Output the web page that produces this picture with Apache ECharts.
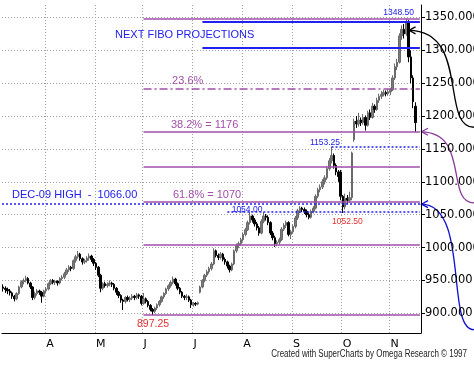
<!DOCTYPE html>
<html><head><meta charset="utf-8">
<script src="https://cdn.jsdelivr.net/npm/echarts@6/dist/echarts.min.js"></script>
<style>html,body{margin:0;padding:0;background:#fff}#c{width:474px;height:366px}</style>
</head><body><div id="c"></div>
<script>
// ---- data ----
const firstDay = '2010-03-05';
const lastDay = '2010-11-18';
const monthLetters = ['J','F','M','A','M','J','J','A','S','O','N','D'];
const yTicks = [900, 950, 1000, 1050, 1100, 1150, 1200, 1250, 1300, 1350];
// [open, close, low, high] per trading day
const ohlc = [
[940,938,933,944],[938,936,931,941],[936,934,929,939],[934,931,927,937],[931,926,922,933],
[926,922,918,928],[922,930,920,932],[930,940,928,942],[940,948,938,950],[948,950,944,953],
[950,953,947,957],[953,946,944,955],[946,940,937,948],[940,924,920,941],[924,930,921,933],
[930,934,927,937],[934,932,928,936],[932,926,916,934],[926,934,924,936],[934,937,931,940],
[937,945,935,947],[945,950,943,952],[950,947,944,952],[947,949,943,951],[949,946,942,950],
[946,953,944,955],[953,955,950,958],[955,960,952,963],[960,966,958,969],[966,970,963,973],
[970,968,964,972],[968,980,966,982],[980,986,977,989],[986,990,983,995],[990,983,980,992],
[983,978,974,985],[978,980,975,983],[980,984,977,987],[984,987,980,991],[987,982,978,989],
[982,976,972,984],[976,970,966,978],[970,958,955,972],[958,938,932,960],[938,945,935,947],
[945,942,939,948],[942,944,939,947],[944,946,941,950],[946,944,940,948],[944,938,935,946],
[938,932,928,940],[932,927,923,934],[927,920,916,929],[920,918,905,922],[918,924,915,926],
[924,921,918,927],[921,923,917,926],[923,926,920,929],[926,924,920,928],[924,928,921,931],
[928,926,922,930],[926,915,912,928],[915,922,913,931],[922,918,915,924],[918,912,909,920],
[912,906,903,914],[906,903,897.25,908],[903,908,900,910],[908,913,905,915],[913,918,910,920],
[918,925,916,927],[925,930,922,932],[930,937,928,939],[937,942,934,944],[942,947,939,949],
[947,952,944,956],[952,945,942,954],[945,938,935,947],[938,932,929,940],[932,926,923,934],
[926,924,920,928],[924,925,920,929],[925,920,917,927],[920,913,908,922],[913,915,910,917],
[915,914,911,917],[914,916,912,918],[932,940,930,942],[940,950,938,952],[950,958,947,960],
[958,963,955,966],[963,968,960,971],[968,975,965,978],[975,995,973,999],[995,988,985,997],
[988,985,981,991],[985,990,982,993],[990,982,979,992],[982,978,974,985],[978,972,968,980],
[972,966,962,974],[966,975,964,977],[975,995,973,997],[995,1003,992,1006],[1003,1006,999,1009],
[1006,1012,1003,1015],[1012,1020,1009,1023],[1020,1027,1017,1030],[1027,1038,1025,1041],[1038,1048,1035,1054],
[1048,1042,1038,1050],[1042,1036,1032,1045],[1036,1030,1026,1039],[1030,1022,1018,1033],[1022,1040,1020,1043],
[1040,1048,1037,1054],[1048,1046,1041,1051],[1046,1038,1034,1049],[1038,1022,1019,1040],[1022,1015,1011,1025],
[1015,1006,1001,1018],[1006,1008,1002,1011],[1008,1012,1004,1015],[1012,1028,1010,1031],[1028,1034,1025,1037],
[1034,1038,1030,1041],[1038,1020,1017,1040],[1020,1024,1013,1027],[1024,1032,1021,1035],[1032,1045,1029,1048],
[1045,1056,1042,1059],[1056,1060,1052,1063],[1060,1058,1054,1062],[1058,1055,1051,1061],[1055,1050,1046,1058],
[1050,1046,1043,1053],[1046,1055,1044,1058],[1055,1060,1052,1063],[1060,1078,1058,1081],[1078,1088,1075,1091],
[1088,1092,1084,1096],[1092,1100,1089,1104],[1100,1106,1096,1110],[1106,1120,1103,1123],[1120,1132,1117,1136],
[1132,1140,1128,1153.25],[1140,1125,1120,1143],[1125,1115,1110,1128],[1115,1108,1100,1118],[1115,1078,1072,1118],
[1078,1062,1052.5,1080],[1062,1075,1058,1082],[1075,1072,1066,1080],[1072,1076,1068,1085],[1076,1144,1072,1146],
[1164,1192,1161,1196],[1192,1188,1182,1200],[1188,1194,1184,1205],[1194,1190,1185,1198],[1190,1198,1187,1203],
[1198,1186,1178,1201],[1186,1205,1184,1208],[1205,1198,1194,1210],[1198,1215,1196,1220],[1215,1210,1205,1218],
[1210,1224,1208,1228],[1224,1230,1220,1234],[1230,1233,1226,1238],[1233,1236,1230,1240],[1236,1234,1230,1239],
[1234,1237,1231,1241],[1237,1240,1232,1243],[1240,1258,1238,1262],[1258,1275,1255,1280],[1275,1282,1270,1287],
[1282,1322,1280,1326],[1322,1332,1316,1338],[1332,1325,1318,1340],[1325,1344,1322,1348.5],[1344,1290,1282,1346],
[1290,1258,1250,1300],[1258,1222,1212,1262],[1215,1190,1176,1221]
];
// Fibonacci levels (swing low 897.25 -> high 1348.50)
const fibLevels = [897.25, 1003.75, 1069.6, 1122.9, 1176.1, 1242.0, 1348.5];
const fibDashDot = [false, false, false, false, false, true, false];
const projLevels = [1343, 1304];          // "next fibo projections"
const dec09High = 1066;
const swingHigh = 1153.25, swingMid = 1054, swingLow = 1052.5, juneLow = 897.25, peak = 1348.5;
const noteTexts = {
  proj: 'NEXT FIBO PROJECTIONS', f236: '23.6%', f382: '38.2% = 1176', f618: '61.8% = 1070',
  dec: 'DEC-09 HIGH  -  1066.00', sh: '1153.25', pk: '1348.50', sm: '1054.00', sl: '1052.50', jl: '897.25'
};
const footer = 'Created with SuperCharts by Omega Research \u00A9 1997';

// ---- categories (weekdays) ----
const cats = [], dows = [];
for (let d = new Date(firstDay + 'T00:00:00Z'); d <= new Date(lastDay + 'T00:00:00Z'); d.setUTCDate(d.getUTCDate() + 1)) {
  const w = d.getUTCDay();
  if (w === 0 || w === 6) continue;
  cats.push(d.toISOString().slice(0, 10)); dows.push(w);
}
const monthStart = new Set(), tickSet = new Set();
cats.forEach((c, i) => {
  if (i > 0 && c.slice(5, 7) !== cats[i - 1].slice(5, 7)) { monthStart.add(i); tickSet.add(i); }
  if (dows[i] === 1) tickSet.add(i);
});

const BLUE = '#2020f0', PURPLE = '#a050a8', RED = '#e83030';
const lastIdx = cats.length - 1;
const fibStart = 62, projStart = 88;

const lines = [];
fibLevels.forEach((v, k) => lines.push([
  {coord: [fibStart, v], lineStyle: {color: PURPLE, width: 1.6, type: fibDashDot[k] ? [8, 3, 2, 3] : 'solid'}},
  {coord: [lastIdx, v]}]));
projLevels.forEach(v => lines.push([
  {coord: [projStart, v], lineStyle: {color: BLUE, width: 2, type: 'solid'}}, {coord: [lastIdx, v]}]));
lines.push({yAxis: dec09High, lineStyle: {color: BLUE, width: 1.5, type: [2, 2]}});
lines.push([{coord: [145, swingHigh], lineStyle: {color: BLUE, width: 1.5, type: [2, 2]}}, {coord: [lastIdx, swingHigh]}]);
lines.push([{coord: [99, swingMid], lineStyle: {color: BLUE, width: 1.5, type: [2, 2]}}, {coord: [lastIdx, swingMid]}]);

const FF = 'Liberation Sans, Arial, sans-serif';
const option = {
  animation: false,
  backgroundColor: '#fff',
  grid: {left: 2, right: 53, top: 5, bottom: 33, containLabel: false, outerBoundsMode: 'none'},
  xAxis: {
    type: 'category', data: cats, boundaryGap: true,
    axisLine: {lineStyle: {color: '#000', width: 1}},
    axisTick: {interval: i => tickSet.has(i), length: 4, lineStyle: {color: '#000'}},
    axisLabel: {interval: i => monthStart.has(i), formatter: v => monthLetters[+v.slice(5, 7) - 1],
      align: 'left', color: '#000', fontSize: 11, margin: 6, fontFamily: 'DejaVu Sans'},
    splitLine: {show: true, interval: i => monthStart.has(i), lineStyle: {color: '#a0a0a0', type: [1, 2], width: 1}}
  },
  yAxis: {
    type: 'value', position: 'right', min: 870, max: 1369, scale: true,
    axisLine: {show: true, lineStyle: {color: '#000'}},
    axisTick: {show: true, customValues: yTicks, length: 4, lineStyle: {color: '#000'}},
    axisLabel: {customValues: yTicks, formatter: v => Number(v).toFixed(3), margin: 4, color: '#000',
      fontSize: 11.5, fontFamily: 'DejaVu Sans', hideOverlap: false},
    splitLine: {show: true, lineStyle: {color: '#a0a0a0', type: [1, 2], width: 1}}
  },
  series: [{
    type: 'candlestick', data: ohlc, barWidth: 2,
    itemStyle: {color: '#7a7a7a', color0: '#000', borderColor: '#6a6a6a', borderColor0: '#000', borderWidth: 1},
    markLine: {silent: true, symbol: ['none', 'none'], label: {show: false}, emphasis: {disabled: true}, data: lines}
  }]
};
const chart = echarts.init(document.getElementById('c'));
chart.setOption(option);

const X = f => { const i = Math.floor(f); const a = chart.convertToPixel({xAxisIndex: 0}, i);
  const b = chart.convertToPixel({xAxisIndex: 0}, i + 1); return a + (f - i) * (b - a); };
const Y = v => chart.convertToPixel({yAxisIndex: 0}, v);
const txt = (t, x, y, color, size, align, extra) => Object.assign({type: 'text', x: x, y: y, silent: true,
  style: {text: t, fill: color, font: size + 'px ' + FF, textAlign: align, textVerticalAlign: 'middle', align: align, verticalAlign: 'middle'}}, extra || {});
const g = [];
g.push(txt(noteTexts.proj, X(49.4), Y((projLevels[0] + projLevels[1]) / 2), BLUE, 11, 'left'));
g.push(txt(noteTexts.f236, X(74.6), Y(fibLevels[5]) - 8, PURPLE, 11, 'left'));
g.push(txt(noteTexts.f382, X(74.1), Y(fibLevels[4]) - 7, PURPLE, 11, 'left'));
g.push(txt(noteTexts.f618, X(75), Y(fibLevels[2]) - 7, PURPLE, 11, 'left'));
g.push(txt(noteTexts.dec, X(3.9), Y(dec09High) - 9, BLUE, 11, 'left'));
g.push(txt(noteTexts.sh, X(142.1), Y(swingHigh) - 4.5, BLUE, 8.5, 'center'));
g.push(txt(noteTexts.pk, X(174.6), Y(peak) - 6, BLUE, 8.5, 'center'));
g.push(txt(noteTexts.sm, X(100.9), Y(swingMid) - 2, BLUE, 8.5, 'left'));
g.push(txt(noteTexts.sl, X(152), Y(swingLow) + 9, RED, 8.5, 'center'));
g.push(txt(noteTexts.jl, X(66.2), Y(juneLow) + 9.5, RED, 10.5, 'center'));
g.push(txt(footer, 467, 354, '#222', 10, 'right', {scaleX: 0.8}));

// curved arrows on the right
const xR = X(lastIdx + 0.5);
const arrows = [
  {from: 1330.5, to: 1183, tip: X(179), color: '#000', cp2: 440},
  {from: fibLevels[4], to: 1068, tip: xR, color: '#8a3a9a', cp2: 445},
  {from: dec09High, to: 875, tip: xR, color: '#1010d0', cp2: 445}
];
arrows.forEach(a => {
  const y1 = Y(a.from), y2 = Y(a.to);
  g.push({type: 'bezierCurve', silent: true,
    shape: {x1: a.tip, y1: y1, x2: 474, y2: y2, cpx1: 470, cpy1: y1, cpx2: a.cp2, cpy2: y2},
    style: {stroke: a.color, lineWidth: 1.3, fill: null}});
  g.push({type: 'polyline', silent: true,
    shape: {points: [[a.tip + 7, y1 - 3.5], [a.tip + 0.5, y1], [a.tip + 7, y1 + 3.5]]},
    style: {stroke: a.color, lineWidth: 1.3, fill: null}});
});
chart.setOption({graphic: g});
</script></body></html>
